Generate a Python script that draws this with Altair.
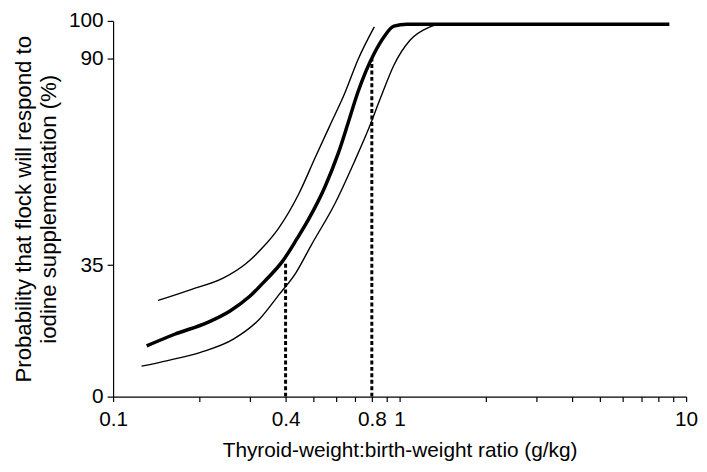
import altair as alt
import pandas as pd

# Central estimate (thick line)
central_x = [0.131, 0.164, 0.213, 0.256, 0.300, 0.342, 0.390, 0.439, 0.482, 0.550,
             0.611, 0.661, 0.715, 0.816, 0.883, 0.955, 1.06, 8.74]
central_y = [13.5, 16.6, 19.7, 22.8, 26.7, 31.1, 36.0, 42.1, 47.3, 56.0,
             64.8, 72.8, 81.0, 91.4, 95.8, 98.6, 99.1, 99.1]
# Upper bound (thin line)
upper_x = [0.1435, 0.187, 0.243, 0.292, 0.332, 0.378, 0.445, 0.508, 0.570, 0.644, 0.715, 0.816]
upper_y = [25.6, 28.5, 31.6, 35.5, 39.6, 44.8, 54.0, 63.7, 72.0, 80.8, 89.6, 98.4]
# Lower bound (thin line)
lower_x = [0.1257, 0.155, 0.202, 0.263, 0.324, 0.380, 0.434, 0.494, 0.595, 0.696,
           0.773, 0.859, 0.955, 1.089, 1.259, 1.35]
lower_y = [8.1, 9.6, 11.8, 15.3, 20.6, 27.2, 32.9, 40.6, 51.4, 62.6,
           70.6, 79.6, 88.2, 94.9, 98.2, 99.0]
# Dashed reference lines
ref_x = [0.4, 0.8]
ref_top = [36, 90]

x_ticks = [0.1, 0.2, 0.3, 0.4, 0.5, 0.6, 0.7, 0.8, 0.9, 1, 2, 3, 4, 5, 6, 7, 8, 9, 10]
x_labels = [0.1, 0.4, 0.8, 1, 10]
y_ticks = [0, 35, 90, 100]

rows = []
for name, xs, ys in [("central", central_x, central_y), ("upper", upper_x, upper_y), ("lower", lower_x, lower_y)]:
    for i, (a, b) in enumerate(zip(xs, ys)):
        rows.append({"series": name, "x": a, "y": b, "order": i})
df = pd.DataFrame(rows)

ref_rows = []
for a, t in zip(ref_x, ref_top):
    ref_rows.append({"grp": str(a), "x": a, "y": 0})
    ref_rows.append({"grp": str(a), "x": a, "y": t})
ref_df = pd.DataFrame(ref_rows)

FONT = "Liberation Sans"
label_list = "[" + ",".join(str(v) for v in x_labels) + "]"

xenc = alt.X("x:Q", scale=alt.Scale(type="log", domain=[0.1, 10], nice=False),
             axis=alt.Axis(values=x_ticks, labelOverlap=False, labelFlush=False,
                           labelExpr=f"indexof({label_list}, datum.value) >= 0 ? format(datum.value, '~g') : ''",
                           title="Thyroid-weight:birth-weight ratio (g/kg)", grid=False,
                           tickSize=5, labelPadding=7, titlePadding=10))
yenc = alt.Y("y:Q", scale=alt.Scale(domain=[0, 100], nice=False, zero=True),
             axis=alt.Axis(values=y_ticks, title=["Probability that flock will respond to", "iodine supplementation (%)"],
                           grid=False, tickSize=6, labelPadding=4, titlePadding=8,
                           titleLineHeight=25, titleFontSize=22.4, labelFlush=False))

base = alt.Chart(df)
thin = base.transform_filter("datum.series != 'central'").mark_line(
    color="black", strokeWidth=1.4, interpolate="monotone").encode(
    x=xenc, y=yenc, detail="series:N", order="order:Q")
thick = base.transform_filter("datum.series == 'central'").mark_line(
    color="black", strokeWidth=3.5, interpolate="monotone").encode(
    x="x:Q", y="y:Q", order="order:Q")
refs = alt.Chart(ref_df).mark_line(color="black", strokeWidth=3, strokeDash=[4, 2.5]).encode(
    x="x:Q", y="y:Q", detail="grp:N")

chart = alt.layer(refs, thin, thick).properties(
    width=578, height=379,
    autosize=alt.AutoSizeParams(type="none"),
    padding={"left": 106, "top": 11, "right": 13, "bottom": 70},
).configure_view(stroke=None).configure_axis(
    domainColor="black", tickColor="black", labelColor="black", titleColor="black",
    labelFont=FONT, titleFont=FONT, labelFontSize=21, titleFontSize=21,
    titleFontWeight="normal", domainWidth=1.2, tickWidth=1.2,
)

chart.save("out.html", embed_options={"renderer": "svg", "actions": False})
